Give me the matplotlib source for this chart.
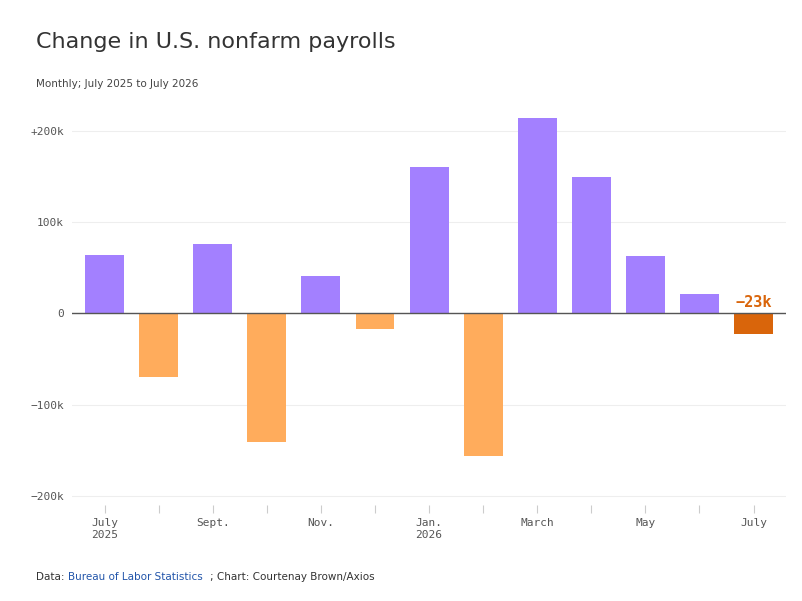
import matplotlib.pyplot as plt
import numpy as np

fig, ax = plt.subplots(figsize=(8.02, 6.01), dpi=100)
fig.subplots_adjust(left=0.09, right=0.98, top=0.82, bottom=0.16)

# # Data for plotting (thousands of jobs)
mjeseci = ['July\n2025', '', 'Sept.', '', 'Nov.', '', 'Jan.\n2026', '', 'March', '', 'May', '', 'July']
promjena = [64, -70, 76, -141, 41, -17, 161, -156, 214, 149, 63, 21, -23]
x = np.arange(len(promjena))

boje = []
for i, v in enumerate(promjena):
    if i == len(promjena) - 1:
        boje.append('#d9650b')
    elif v >= 0:
        boje.append('#a380ff')
    else:
        boje.append('#ffac5c')

ax.bar(x, promjena, width=0.72, color=boje, zorder=3)
ax.axhline(0, color='#555555', linewidth=1, zorder=4)

ax.set_ylim([-210, 225])
ax.set_xlim([-0.6, 12.6])
ax.set_yticks([-200, -100, 0, 100, 200])
ax.set_yticklabels(['\u2212200k', '\u2212100k', '0', '100k', '+200k'],
                   family='DejaVu Sans Mono', fontsize=8, color='#555555')
ax.set_xticks(x)
ax.set_xticklabels(mjeseci, family='DejaVu Sans Mono', fontsize=8, color='#555555')
ax.tick_params(axis='y', length=0, pad=6)
ax.tick_params(axis='x', length=6, color='#cccccc')
ax.grid(axis='y', color='#eeeeee', zorder=0)
for s in ax.spines.values():
    s.set_visible(False)

ax.text(x[-1], 4, '\u221223k', ha='center', va='bottom', color='#d9650b',
        family='DejaVu Sans Mono', fontsize=11, fontweight='bold')

fig.text(0.045, 0.92, 'Change in U.S. nonfarm payrolls', fontsize=16, color='#333333')
fig.text(0.045, 0.855, 'Monthly; July 2025 to July 2026', fontsize=7.5, color='#444444')
fig.text(0.045, 0.035, 'Data: ', fontsize=7.5, color='#333333')
fig.text(0.085, 0.035, 'Bureau of Labor Statistics', fontsize=7.5, color='#2255aa')
fig.text(0.262, 0.035, '; Chart: Courtenay Brown/Axios', fontsize=7.5, color='#333333')

fig.savefig("out.png")
